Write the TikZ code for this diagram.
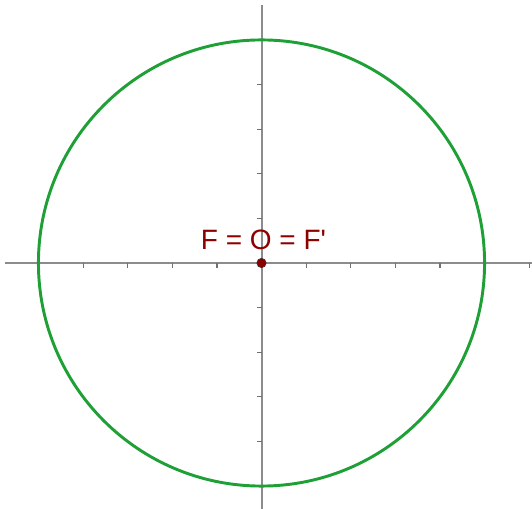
\documentclass[tikz,border=0pt]{standalone}
\usepackage{fontspec}
\setmainfont{Liberation Sans}
\definecolor{axisgray}{RGB}{140,140,140}
\definecolor{circgreen}{RGB}{30,160,55}
\definecolor{ptred}{RGB}{140,0,0}
\begin{document}
\begin{tikzpicture}[x=0.75pt,y=-0.75pt,
  axisline/.style={draw=axisgray,line width=1.5pt},
  tickmark/.style={draw=axisgray!80!black,line width=0.9pt},
  ellipseline/.style={draw=circgreen,line width=2.2pt},
  ptdot/.style={circle,fill=ptred,draw=black!80,line width=0.5pt,inner sep=0pt,minimum size=7pt},
  ptlabel/.style={text=ptred,font=\fontsize{21}{24}\selectfont,inner sep=0pt,anchor=base}]
\useasboundingbox (0,0) rectangle (532,509);
\coordinate (xl) at (5,263);
\coordinate (xr) at (532,263);
\coordinate (yt) at (261.5,5);
\coordinate (yb) at (261.5,509);
\draw[axisline] (xl) -- (xr);
\draw[axisline] (yt) -- (yb);
\foreach \i in {-4,-3,-2,-1,1,2,3,4,6} {
  \draw[tickmark] (261.5+44.6*\i,263) -- ++(0,5);
}
\foreach \i in {-4,-3,-2,-1,1,2,3,4} {
  \draw[tickmark] (261.5,263+44.6*\i) -- ++(-5,0);
}
\node[ptdot] (O) at (261.5,263) {};
\draw[ellipseline] (O.center) circle[radius=167.3pt];
\node[ptlabel] (lab) at (263.5,250) {F = O = F\textquotesingle};
\end{tikzpicture}
\end{document}
